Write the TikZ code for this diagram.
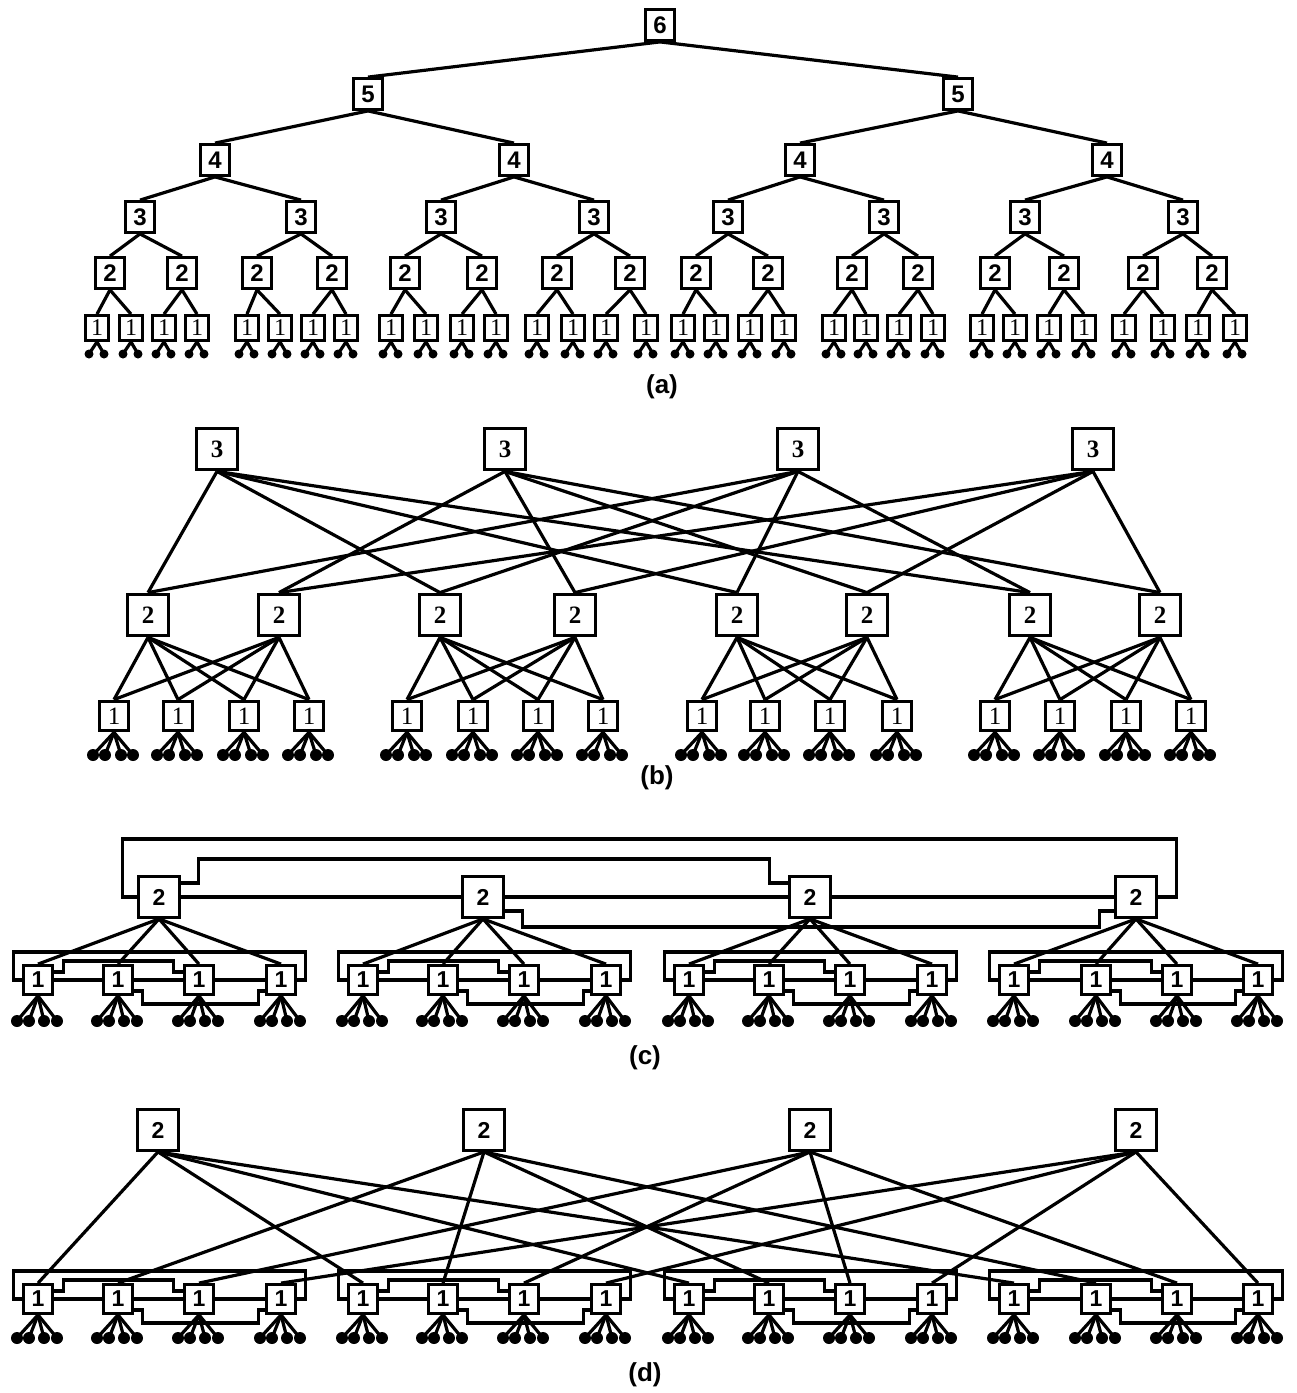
\documentclass[tikz,border=0pt]{standalone}
\usepackage{fontspec}
\setmainfont{Liberation Sans}
\newfontfamily\serifA{Liberation Serif}
\usetikzlibrary{calc}
\begin{document}
\begin{tikzpicture}[x=1pt,y=-1pt,line width=3.2pt,
  bx/.style={draw,fill=white,inner sep=0pt,line width=3.2pt},
  boxA/.style={bx,minimum width=29.6pt,minimum height=30.6pt,font=\fontsize{24}{24}\selectfont\bfseries},
  boxAone/.style={bx,minimum width=23.6pt,minimum height=24.6pt,font=\serifA\fontsize{24}{24}\selectfont},
  boxB/.style={bx,minimum width=41.6pt,minimum height=41.6pt,font=\serifA\fontsize{25}{25}\selectfont\bfseries},
  boxBone/.style={bx,minimum width=29.6pt,minimum height=29.6pt,font=\serifA\fontsize{25}{25}\selectfont},
  boxC/.style={bx,minimum width=41.6pt,minimum height=40.6pt,font=\fontsize{23}{23}\selectfont\bfseries},
  boxCone/.style={bx,minimum width=29.6pt,minimum height=28.6pt,font=\fontsize{23}{23}\selectfont\bfseries},
  leafA/.style={circle,fill,inner sep=0pt,minimum size=9pt},
  leafB/.style={circle,fill,inner sep=0pt,minimum size=12pt},
  lbl/.style={font=\fontsize{26}{26}\selectfont\bfseries}
]
\useasboundingbox (0,0) rectangle (1297,1393);

% ---------------- (a) ----------------
\foreach \x [count=\i from 0] in {97,131,164,197,247,280,313,346,391,426,462,496,537,573,606,646,683,716,750,784,834,866,899,933,982,1015,1049,1084,1124,1163,1198,1235} {
  \node[boxAone] (a1-\i) at (\x,328) {1};
  \node[leafA] (a1-\i-l) at (\x-8,354) {};
  \node[leafA] (a1-\i-r) at (\x+7,354) {};
  \draw (a1-\i.south) -- (a1-\i-l.center);
  \draw (a1-\i.south) -- (a1-\i-r.center);
}
\foreach \x [count=\i from 0] in {110,182,257,332,405,482,557,630,696,768,852,918,995,1064,1143,1212} {
  \node[boxA] (a2-\i) at (\x,273) {2};
  \pgfmathtruncatemacro\myca{2*\i}\pgfmathtruncatemacro\mycb{2*\i+1}
  \draw (a2-\i.south) -- (a1-\myca.north);
  \draw (a2-\i.south) -- (a1-\mycb.north);
}
\foreach \x [count=\i from 0] in {140,301,441,594,728,884,1025,1183} {
  \node[boxA] (a3-\i) at (\x,217) {3};
  \pgfmathtruncatemacro\myca{2*\i}\pgfmathtruncatemacro\mycb{2*\i+1}
  \draw (a3-\i.south) -- (a2-\myca.north);
  \draw (a3-\i.south) -- (a2-\mycb.north);
}
\foreach \x [count=\i from 0] in {215,514,800,1107} {
  \node[boxA] (a4-\i) at (\x,160) {4};
  \pgfmathtruncatemacro\myca{2*\i}\pgfmathtruncatemacro\mycb{2*\i+1}
  \draw (a4-\i.south) -- (a3-\myca.north);
  \draw (a4-\i.south) -- (a3-\mycb.north);
}
\foreach \x [count=\i from 0] in {368,958} {
  \node[boxA] (a5-\i) at (\x,94) {5};
  \pgfmathtruncatemacro\myca{2*\i}\pgfmathtruncatemacro\mycb{2*\i+1}
  \draw (a5-\i.south) -- (a4-\myca.north);
  \draw (a5-\i.south) -- (a4-\mycb.north);
}
\node[boxA] (a6) at (660,25) {6};
\draw (a6.south) -- (a5-0.north);
\draw (a6.south) -- (a5-1.north);
\node[lbl] (la) at (662,387) {(a)};

% ---------------- (b) ----------------
\foreach \x [count=\i from 0] in {114,178,244,309,407,473,538,603,702,765,830,897,995,1060,1126,1191} {
  \node[boxBone] (b1-\i) at (\x,716) {1};
  \foreach \d [count=\k] in {-21,-9,7,19} {
    \node[leafB] (b1-\i-\k) at (\x+\d,755) {};
    \draw (b1-\i.south) -- (b1-\i-\k.center);
  }
}
\foreach \x [count=\i from 0] in {148,279,440,575,737,867,1030,1160} {
  \node[boxB] (b2-\i) at (\x,615) {2};
  \pgfmathtruncatemacro\mypp{\i/2}
  \foreach \k in {0,...,3} {
    \pgfmathtruncatemacro\myc{4*\mypp+\k}
    \draw (b2-\i.south) -- (b1-\myc.north);
  }
}
\foreach \x [count=\i from 0] in {217,505,798,1093} {
  \node[boxB] (b3-\i) at (\x,449) {3};
  \pgfmathtruncatemacro\myr{mod(\i,2)}
  \foreach \q in {0,...,3} {
    \pgfmathtruncatemacro\myc{2*\q+\myr}
    \draw (b3-\i.south) -- (b2-\myc.north);
  }
}
\node[lbl] (lb) at (657,778) {(b)};

% ---------------- (c) and (d): edge switches ----------------
\foreach \x [count=\i from 0] in {38,118,199,281,363,443,524,606,689,769,850,932,1014,1096,1177,1258} {
  \node[boxCone] (c1-\i) at (\x,980) {1};
  \node[boxCone] (d1-\i) at (\x,1299) {1};
  \foreach \d [count=\k] in {-21,-9,6,19} {
    \node[leafB] (c1-\i-\k) at (\x+\d,1021) {};
    \draw (c1-\i.south) -- (c1-\i-\k.center);
    \node[leafB] (d1-\i-\k) at (\x+\d,1338) {};
    \draw (d1-\i.south) -- (d1-\i-\k.center);
  }
}
% pod full-mesh links
\foreach \myp in {c,d} {
  \foreach \q in {0,...,3} {
    \pgfmathtruncatemacro\nA{4*\q}
    \pgfmathtruncatemacro\nB{4*\q+1}
    \pgfmathtruncatemacro\nC{4*\q+2}
    \pgfmathtruncatemacro\nD{4*\q+3}
    \draw (\myp1-\nA.east) -- (\myp1-\nB.west);
    \draw (\myp1-\nB.east) -- (\myp1-\nC.west);
    \draw (\myp1-\nC.east) -- (\myp1-\nD.west);
    \draw ($(\myp1-\nA.east)+(0,-8)$) -- ++(9,0) |- ($(\myp1-\nC.west)+(-9,-19)$) |- ($(\myp1-\nC.west)+(0,-8)$);
    \draw ($(\myp1-\nB.east)+(0,11)$) -- ++(8,0) |- ($(\myp1-\nD.west)+(-6,24)$) |- ($(\myp1-\nD.west)+(0,11)$);
    \draw (\myp1-\nA.west) -- ++(-8,0) |- ($(\myp1-\nD.east)+(8,-28)$) |- (\myp1-\nD.east);
  }
}

% ---------------- (c) top ----------------
\foreach \x [count=\i from 0] in {159,483,810,1136} {
  \node[boxC] (c2-\i) at (\x,897) {2};
}
\draw (c2-0.east) -- (c2-1.west);
\draw (c2-1.east) -- (c2-2.west);
\draw (c2-2.east) -- (c2-3.west);
\draw ($(c2-0.east)+(0,-14)$) -- ++(17,0) |- ($(c2-2.west)+(-18,-38)$) |- ($(c2-2.west)+(0,-14)$);
\draw ($(c2-1.east)+(0,14)$) -- ++(17,0) |- ($(c2-3.west)+(-14,30)$) |- ($(c2-3.west)+(0,14)$);
\draw (c2-0.west) -- ++(-14,0) |- ($(c2-3.east)+(18,-58)$) |- (c2-3.east);
\foreach \i in {0,...,3} {
  \foreach \k in {0,...,3} {
    \pgfmathtruncatemacro\myc{4*\i+\k}
    \draw (c2-\i.south) -- (c1-\myc.north);
  }
}
\node[lbl] (lc) at (645,1058) {(c)};

% ---------------- (d) top ----------------
\foreach \x [count=\i from 0] in {158,484,810,1136} {
  \node[boxC] (d2-\i) at (\x,1130) {2};
  \foreach \q in {0,...,3} {
    \pgfmathtruncatemacro\myc{4*\q+\i}
    \draw (d2-\i.south) -- (d1-\myc.north);
  }
}
\node[lbl] (ld) at (645,1375) {(d)};
\end{tikzpicture}
\end{document}
